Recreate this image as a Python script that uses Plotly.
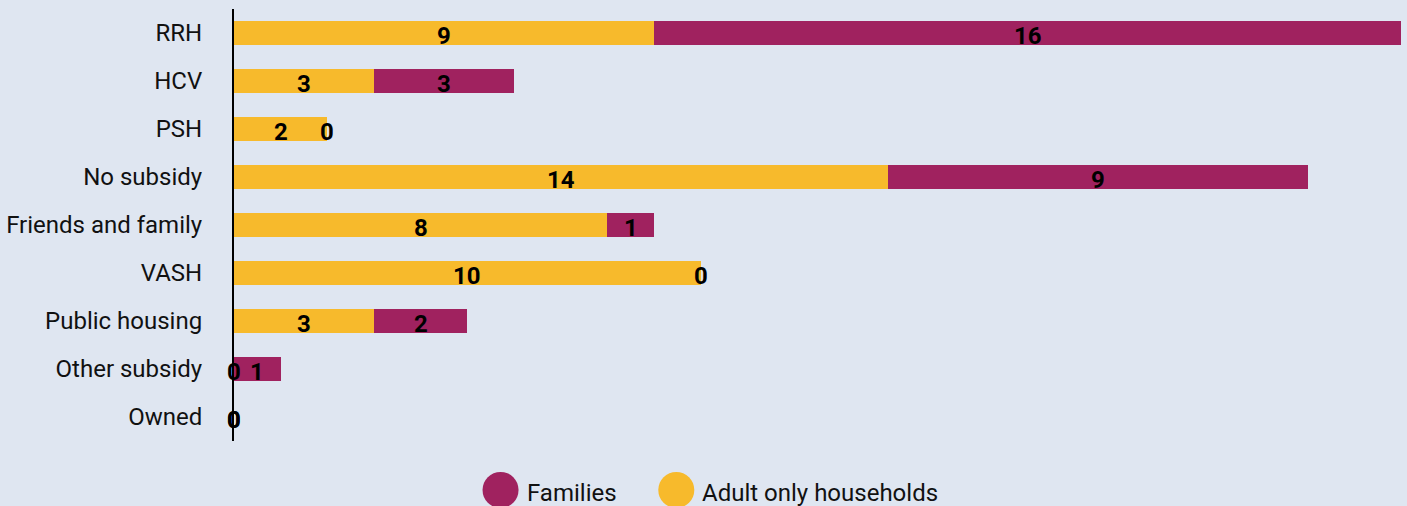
import plotly.graph_objects as go

categories = ["RRH", "HCV", "PSH", "No subsidy", "Friends and family", "VASH",
              "Public housing", "Other subsidy", "Owned"]
adult_only = [9, 3, 2, 14, 8, 10, 3, 0, 0]
families = [16, 3, 0, 9, 1, 0, 2, 1, 0]

YELLOW = "#F7BA2C"
MAROON = "#A0225F"
BG = "#DFE6F1"
FS = 24

fig = go.Figure()
fig.add_trace(go.Bar(y=categories, x=adult_only, orientation="h", name="Adult only households",
                     marker=dict(color=YELLOW, line=dict(width=0)), showlegend=False,
                     hoverinfo="x+y"))
fig.add_trace(go.Bar(y=categories, x=families, orientation="h", name="Families",
                     marker=dict(color=MAROON, line=dict(width=0)), showlegend=False,
                     hoverinfo="x+y"))

# value labels (centered on each segment, zero values shown at segment position)
lab_font = dict(family="Roboto", size=FS, color="#000000", weight="bold")
for cat, a, f in zip(categories, adult_only, families):
    for xpos, val in ((a / 2, a), (a + f / 2, f)):
        fig.add_annotation(x=xpos, y=cat, xref="x", yref="y", text=str(val), showarrow=False,
                           xanchor="center", yanchor="middle", yshift=-3, font=lab_font)

# custom legend with large circles
legend_items = [("Families", MAROON, 0.2284, 0.2524), ("Adult only households", YELLOW, 0.379, 0.4029)]
ly = -0.1134
for name, col, cx, tx in legend_items:
    fig.add_shape(type="circle", xref="paper", yref="paper", xsizemode="pixel", ysizemode="pixel",
                  xanchor=cx, yanchor=ly, x0=-18, x1=18, y0=-18, y1=18,
                  fillcolor=col, line=dict(width=0))
    fig.add_annotation(xref="paper", yref="paper", x=tx, y=ly, yshift=-3, xshift=-4, text=name,
                       showarrow=False, xanchor="left", yanchor="middle",
                       font=dict(family="Roboto", size=FS, color="#111111"))

fig.update_layout(
    barmode="stack",
    bargap=0.5,
    width=1407, height=506,
    margin=dict(l=232, r=6, t=9, b=65),
    paper_bgcolor=BG, plot_bgcolor=BG,
    font=dict(family="Roboto", size=FS, color="#111111"),
    xaxis=dict(range=[0, 25], showgrid=False, zeroline=False, showticklabels=False,
               showline=False, ticks="", fixedrange=True),
    yaxis=dict(autorange="reversed", showgrid=False, zeroline=False, showline=True,
               linecolor="#000000", linewidth=2, ticks="", ticklabelstandoff=25,
               tickfont=dict(family="Roboto", size=FS, color="#111111"), fixedrange=True),
)

fig.write_html("out.html", config={"displayModeBar": False},
               post_script="document.body.style.margin='0';document.body.style.padding='0';"
                           "document.body.style.overflow='hidden';")
